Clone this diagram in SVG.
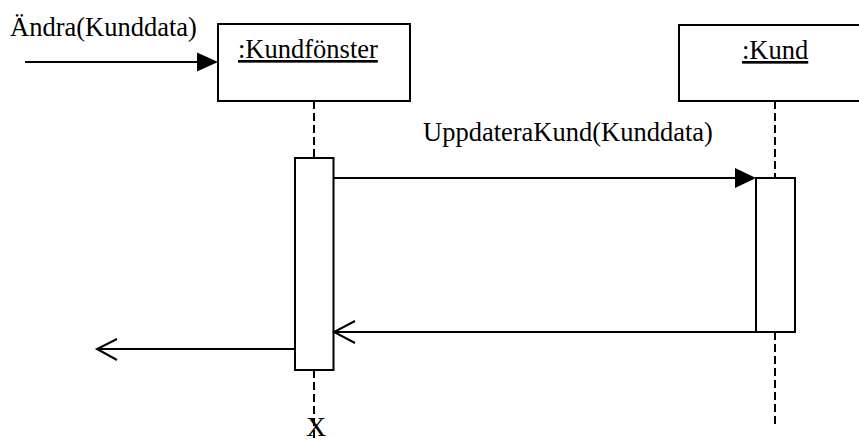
<svg xmlns="http://www.w3.org/2000/svg" width="859" height="441" viewBox="0 0 859 441">
  <style>
    .box { fill: #fff; stroke: #000; stroke-width: 2; }
    .life { stroke: #000; stroke-width: 2; stroke-dasharray: 8 4; fill: none; }
    .msg { stroke: #000; stroke-width: 2; fill: none; }
    .open { stroke: #000; stroke-width: 2; fill: none; }
    .head { fill: #000; stroke: none; }
  </style>

  <!-- lifelines -->
  <g id="lifelines">
    <line class="life" x1="314" y1="101" x2="314" y2="158"/>
    <line class="life" x1="314" y1="370" x2="314" y2="441"/>
    <line class="life" x1="775" y1="101" x2="775" y2="178"/>
    <line class="life" x1="775" y1="332" x2="775" y2="428"/>
  </g>

  <g font-family="'Liberation Serif', 'Times New Roman', serif" font-size="26.5" fill="#000">
    <!-- object: Kundfönster -->
    <g id="kundfonster">
      <rect class="box" x="218" y="24" width="192" height="77"/>
      <text x="238" y="58" text-decoration="underline">:Kundfönster</text>
      <rect class="box" x="295" y="158" width="38.5" height="212"/>
      <text x="316" y="435.5" text-anchor="middle" font-size="28">X</text>
    </g>

    <!-- object: Kund -->
    <g id="kund">
      <rect class="box" x="679" y="25" width="192" height="76"/>
      <text x="742" y="59" text-decoration="underline">:Kund</text>
      <rect class="box" x="756" y="178" width="39" height="154"/>
    </g>

    <!-- messages -->
    <g id="connectors">
      <!-- incoming call -->
      <line class="msg" x1="25" y1="62" x2="200" y2="62"/>
      <polygon class="head" points="197,52.5 218,62 197,71.5"/>
      <text x="10" y="36">Ändra(Kunddata)</text>

      <!-- call to Kund -->
      <line class="msg" x1="334" y1="178" x2="738" y2="178"/>
      <polygon class="head" points="735,168 756,178 735,188"/>
      <text x="423" y="141">UppdateraKund(Kunddata)</text>

      <!-- return from Kund -->
      <line class="msg" x1="756" y1="332" x2="334" y2="332"/>
      <polyline class="open" points="355,321 334,332 355,343"/>

      <!-- outgoing return -->
      <line class="msg" x1="295" y1="349" x2="97" y2="349"/>
      <polyline class="open" points="117,339 97,349 117,360"/>
    </g>
  </g>
</svg>
